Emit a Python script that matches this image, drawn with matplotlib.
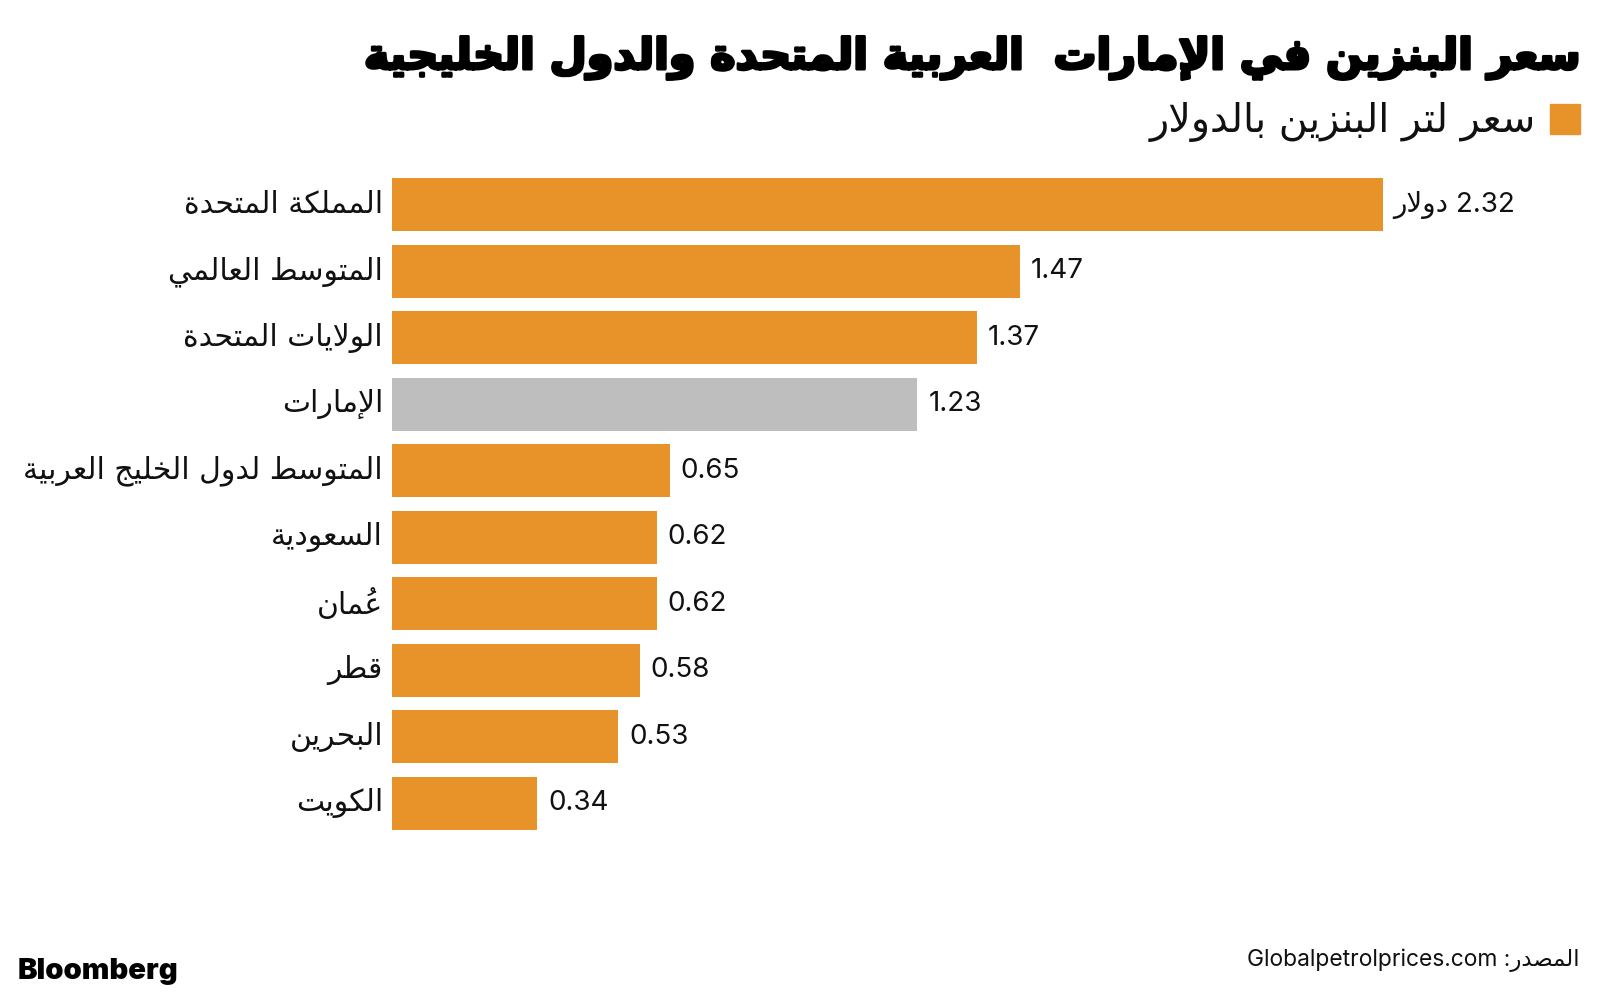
import matplotlib
matplotlib.use("Agg")
import matplotlib.pyplot as plt
import matplotlib.patheffects as pe
from matplotlib.patches import Rectangle

# Arabic has to be shaped and reversed by hand, matplotlib only lays out left to right
FORMS = {
    0x0621: (0xFE80, None, None, None), 0x0622: (0xFE81, 0xFE82, None, None),
    0x0623: (0xFE83, 0xFE84, None, None), 0x0624: (0xFE85, 0xFE86, None, None),
    0x0625: (0xFE87, 0xFE88, None, None), 0x0626: (0xFE89, 0xFE8A, 0xFE8B, 0xFE8C),
    0x0627: (0xFE8D, 0xFE8E, None, None), 0x0628: (0xFE8F, 0xFE90, 0xFE91, 0xFE92),
    0x0629: (0xFE93, 0xFE94, None, None), 0x062A: (0xFE95, 0xFE96, 0xFE97, 0xFE98),
    0x062B: (0xFE99, 0xFE9A, 0xFE9B, 0xFE9C), 0x062C: (0xFE9D, 0xFE9E, 0xFE9F, 0xFEA0),
    0x062D: (0xFEA1, 0xFEA2, 0xFEA3, 0xFEA4), 0x062E: (0xFEA5, 0xFEA6, 0xFEA7, 0xFEA8),
    0x062F: (0xFEA9, 0xFEAA, None, None), 0x0630: (0xFEAB, 0xFEAC, None, None),
    0x0631: (0xFEAD, 0xFEAE, None, None), 0x0632: (0xFEAF, 0xFEB0, None, None),
    0x0633: (0xFEB1, 0xFEB2, 0xFEB3, 0xFEB4), 0x0634: (0xFEB5, 0xFEB6, 0xFEB7, 0xFEB8),
    0x0635: (0xFEB9, 0xFEBA, 0xFEBB, 0xFEBC), 0x0636: (0xFEBD, 0xFEBE, 0xFEBF, 0xFEC0),
    0x0637: (0xFEC1, 0xFEC2, 0xFEC3, 0xFEC4), 0x0638: (0xFEC5, 0xFEC6, 0xFEC7, 0xFEC8),
    0x0639: (0xFEC9, 0xFECA, 0xFECB, 0xFECC), 0x063A: (0xFECD, 0xFECE, 0xFECF, 0xFED0),
    0x0641: (0xFED1, 0xFED2, 0xFED3, 0xFED4), 0x0642: (0xFED5, 0xFED6, 0xFED7, 0xFED8),
    0x0643: (0xFED9, 0xFEDA, 0xFEDB, 0xFEDC), 0x0644: (0xFEDD, 0xFEDE, 0xFEDF, 0xFEE0),
    0x0645: (0xFEE1, 0xFEE2, 0xFEE3, 0xFEE4), 0x0646: (0xFEE5, 0xFEE6, 0xFEE7, 0xFEE8),
    0x0647: (0xFEE9, 0xFEEA, 0xFEEB, 0xFEEC), 0x0648: (0xFEED, 0xFEEE, None, None),
    0x0649: (0xFEEF, 0xFEF0, None, None), 0x064A: (0xFEF1, 0xFEF2, 0xFEF3, 0xFEF4),
}
LAM_ALEF = {0x0622: (0xFEF5, 0xFEF6, None, None), 0x0623: (0xFEF7, 0xFEF8, None, None),
            0x0625: (0xFEF9, 0xFEFA, None, None), 0x0627: (0xFEFB, 0xFEFC, None, None)}
MARKS = set(range(0x064B, 0x0653))


def ar(text):
    items = []
    i = 0
    while i < len(text):
        c = ord(text[i])
        if c == 0x0644 and i + 1 < len(text) and ord(text[i + 1]) in LAM_ALEF:
            items.append([LAM_ALEF[ord(text[i + 1])], text[i], ""])
            i += 2
            continue
        if c in MARKS and items:
            items[-1][2] += text[i]
        else:
            items.append([FORMS.get(c), text[i], ""])
        i += 1
    out = []
    for j, (f, ch, marks) in enumerate(items):
        if f is None:
            out.append(marks + ch)
            continue
        prev = items[j - 1][0] if j > 0 else None
        nxt = items[j + 1][0] if j + 1 < len(items) else None
        pj = prev is not None and prev[2] is not None
        nj = f[2] is not None and nxt is not None and nxt[1] is not None
        if pj and nj:
            g = f[3]
        elif pj:
            g = f[1]
        elif nj:
            g = f[2]
        else:
            g = f[0]
        # the mark goes first so it is drawn over its letter, not after it
        out.append(marks + chr(g))
    return "".join(reversed(out))


countries = ["المملكة المتحدة", "المتوسط العالمي", "الولايات المتحدة", "الإمارات",
             "المتوسط لدول الخليج العربية", "السعودية", "عُمان", "قطر", "البحرين", "الكويت"]
prices = [2.32, 1.47, 1.37, 1.23, 0.65, 0.62, 0.62, 0.58, 0.53, 0.34]
highlight = "الإمارات"
unit = "دولار"

title = "سعر البنزين في الإمارات  العربية المتحدة والدول الخليجية"
legend_label = "سعر لتر البنزين بالدولار"
source_label = "المصدر"
source_site = "Globalpetrolprices.com"

ORANGE = "#E8922A"
GREY = "#BEBEBE"
AR_FONT = ["DejaVu Sans"]
NUM_FONT = ["Inter", "DejaVu Sans"]

W, H = 1600, 993
fig = plt.figure(figsize=(W / 100, H / 100), dpi=100)
fig.patch.set_facecolor("white")

px_per_unit = 427
top, pitch = 171.5, 66.5
ax = fig.add_axes([392 / W, 1 - (top + pitch * len(prices)) / H, 1000 / W, pitch * len(prices) / H])
ax.set_xlim(0, 1000 / px_per_unit)
ax.set_ylim(len(prices) - 0.5, -0.5)
ax.axis("off")

colors = [GREY if c == highlight else ORANGE for c in countries]
ypos = list(range(len(prices)))
ax.barh(ypos, prices, height=0.79, color=colors)

for y, name, v in zip(ypos, countries, prices):
    ax.text(-9 / px_per_unit, y, ar(name), ha="right", va="center",
            fontsize=21.5, family=AR_FONT, color="#111111")
    lab = f"{v:.2f}"
    if y == 0:
        lab = ar(unit) + " " + lab
    ax.text(v + 11 / px_per_unit, y, lab, ha="left", va="center",
            fontsize=20, family=NUM_FONT, color="#111111")

renderer = fig.canvas.get_renderer()


def fit(t, width):
    w = t.get_window_extent(renderer).width
    t.set_fontsize(t.get_fontsize() * width / w)


t = fig.text(1580 / W, 1 - 69 / H, ar(title), ha="right", va="baseline",
             fontsize=34, fontweight="bold", family=AR_FONT, color="black")
fit(t, 1216)
# the original title face is heavier than DejaVu Bold
t.set_path_effects([pe.withStroke(linewidth=2.2, foreground="black")])

fig.patches.append(Rectangle((1550 / W, 1 - 134 / H), 30 / W, 30 / H,
                             transform=fig.transFigure, color=ORANGE))
t = fig.text(1536 / W, 1 - 132 / H, ar(legend_label), ha="right", va="baseline",
             fontsize=22, family=AR_FONT, color="#111111")
fit(t, 386)

t = fig.text(18 / W, 1 - 979 / H, "Bloomberg", ha="left", va="baseline",
             fontsize=22, fontweight="black", family=NUM_FONT, color="black")
fit(t, 160)
t = fig.text(1580 / W, 1 - 966 / H, source_site + " :" + ar(source_label), ha="right",
             va="baseline", fontsize=17.6, family=NUM_FONT, color="#111111")
fit(t, 333)

fig.savefig("out.png", dpi=100, facecolor="white")
